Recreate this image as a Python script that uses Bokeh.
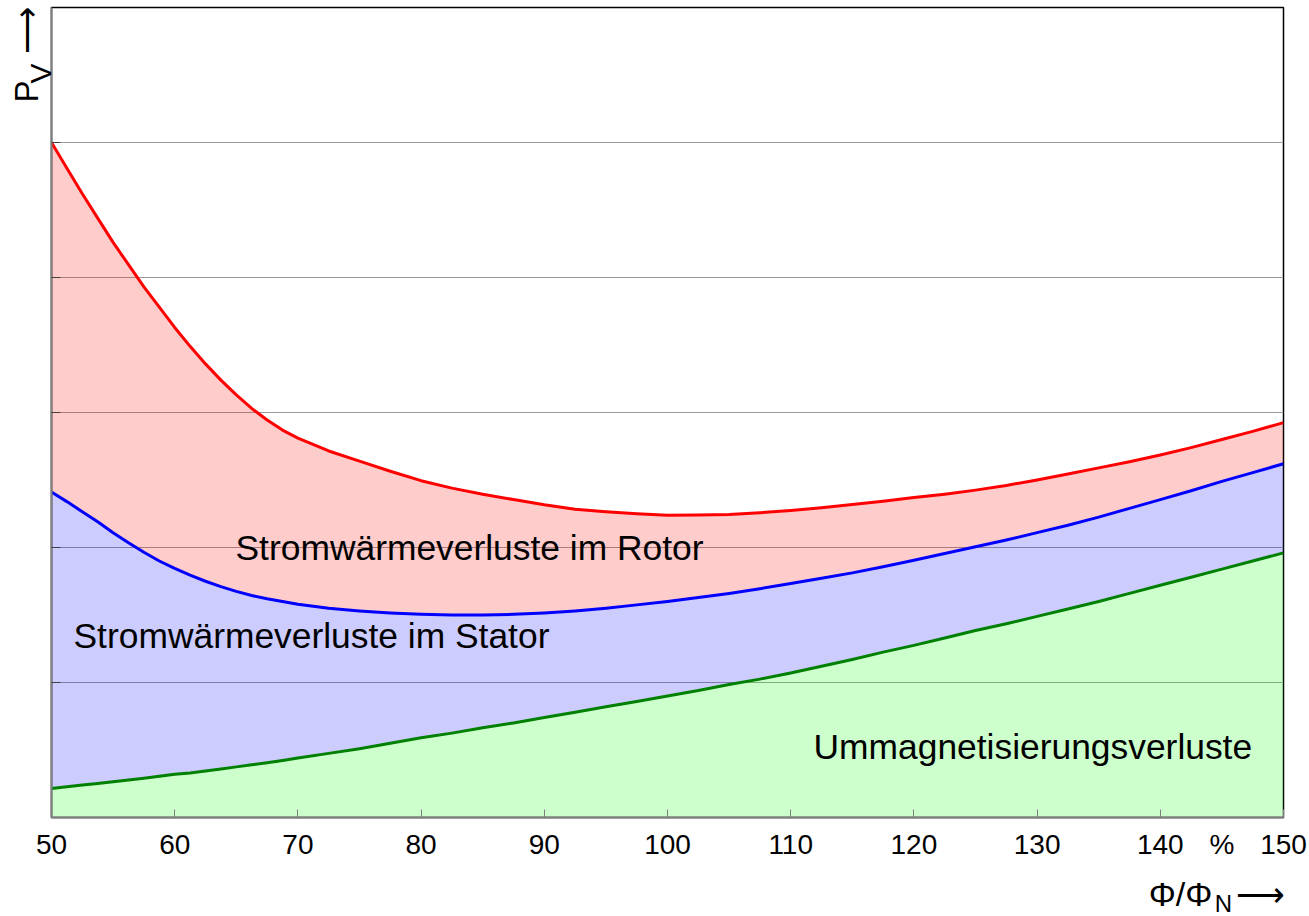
from bokeh.plotting import figure
from bokeh.models import Range1d, FixedTicker, Label, LinearAxis, Grid
from bokeh.embed import file_html
from bokeh.resources import INLINE

# ---- data ----
phi = [50, 51.25, 52.5, 53.75, 55, 56.25, 57.5, 58.75, 60, 61.25, 62.5, 63.75, 65, 66.25, 67.5, 68.75, 70,
       72.5, 75, 77.5, 80, 82.5, 85, 87.5, 90, 92.5, 95, 97.5,
       100, 102.5, 105, 107.5, 110, 112.5, 115, 117.5, 120, 122.5, 125, 127.5, 130, 132.5, 135, 137.5,
       140, 142.5, 145, 147.5, 150]
rotor = [5.00, 4.81, 4.62, 4.44, 4.26, 4.095, 3.93, 3.78, 3.63, 3.49, 3.36, 3.24, 3.13, 3.03, 2.945, 2.87, 2.81,
         2.715, 2.64, 2.565, 2.495, 2.44, 2.395, 2.355, 2.316, 2.283, 2.265, 2.25,
         2.238, 2.24, 2.244, 2.258, 2.274, 2.294, 2.318, 2.342, 2.37, 2.395, 2.425, 2.46, 2.50, 2.545, 2.59, 2.635,
         2.685, 2.74, 2.80, 2.86, 2.925]
stator = [2.41, 2.34, 2.265, 2.19, 2.11, 2.035, 1.965, 1.90, 1.845, 1.795, 1.75, 1.71, 1.675, 1.645, 1.62, 1.60, 1.58,
          1.55, 1.53, 1.515, 1.505, 1.50, 1.50, 1.505, 1.515, 1.53, 1.55, 1.575,
          1.60, 1.63, 1.66, 1.695, 1.733, 1.772, 1.812, 1.857, 1.905, 1.955, 2.005, 2.055, 2.11, 2.165, 2.225, 2.29,
          2.355, 2.42, 2.49, 2.555, 2.62]
ummag = [0.215, 0.227, 0.24, 0.252, 0.265, 0.277, 0.29, 0.305, 0.32, 0.33, 0.345, 0.36, 0.375, 0.39, 0.405, 0.422, 0.44,
         0.475, 0.51, 0.55, 0.59, 0.625, 0.665, 0.70, 0.74, 0.78, 0.82, 0.86,
         0.90, 0.94, 0.985, 1.025, 1.07, 1.12, 1.17, 1.225, 1.275, 1.33, 1.385, 1.435, 1.49, 1.545, 1.60, 1.66,
         1.72, 1.78, 1.84, 1.90, 1.96]

x_ticks = [50, 60, 70, 80, 90, 100, 110, 120, 130, 140, 150]
x_tick_labels = ["50", "60", "70", "80", "90", "100", "110", "120", "130", "140", "150"]
unit_pos, unit_label = 145, "%"
y_ticks = [1, 2, 3, 4, 5]
labels = ["Stromwärmeverluste im Rotor", "Stromwärmeverluste im Stator", "Ummagnetisierungsverluste"]

FONT = "Liberation Sans"

# frame in page pixels: x 51..1283, y 7..817
FL, FR, FT, FB = 51, 1283, 7, 817
def dx(px):
    return 50 + (px - FL) * 100.0 / (FR - FL)
def dy(py):
    return (FB - py) * 6.0 / (FB - FT)

p = figure(frame_width=FR - FL, frame_height=FB - FT,
           x_range=Range1d(50, 150), y_range=Range1d(0, 6),
           output_backend="svg", toolbar_location=None,
           x_axis_type=None, y_axis_type=None,
           min_border_left=FL, min_border_right=25, min_border_top=FT, min_border_bottom=916 - FB)
p.background_fill_color = "white"
p.border_fill_color = "white"
p.outline_line_color = "black"
p.outline_line_width = 1.5

# fills (semi-transparent so the grid shows through)
p.varea(x=phi, y1=[0] * len(phi), y2=ummag, fill_color="#00ff00", fill_alpha=0.2)
p.varea(x=phi, y1=ummag, y2=stator, fill_color="#0000ff", fill_alpha=0.2)
p.varea(x=phi, y1=stator, y2=rotor, fill_color="#ff0000", fill_alpha=0.2)

p.line(phi, ummag, line_color="#008000", line_width=3, line_join="round")
p.line(phi, stator, line_color="#0000ff", line_width=3, line_join="round")
p.line(phi, rotor, line_color="#ff0000", line_width=3, line_join="round")

# ---- main axes ----
xt = x_ticks[:-1] + [unit_pos, x_ticks[-1]]
xl = x_tick_labels[:-1] + [unit_label, x_tick_labels[-1]]
xaxis = LinearAxis(ticker=FixedTicker(ticks=xt, minor_ticks=x_ticks),
                   major_label_overrides=dict(zip(xt, xl)),
                   axis_line_color="#808080", axis_line_width=2,
                   major_tick_line_color=None, major_tick_in=0, major_tick_out=0,
                   minor_tick_line_color="#808080", minor_tick_line_width=1,
                   minor_tick_in=8, minor_tick_out=0,
                   major_label_text_font=FONT, major_label_text_font_size="28px",
                   major_label_text_color="black", major_label_standoff=11)
p.add_layout(xaxis, "below")

yaxis = LinearAxis(ticker=FixedTicker(ticks=[], minor_ticks=y_ticks),
                   axis_line_color="#808080", axis_line_width=2,
                   major_tick_line_color=None, major_tick_in=0, major_tick_out=0,
                   minor_tick_line_color="#404040", minor_tick_line_width=1,
                   minor_tick_in=9, minor_tick_out=0, major_label_standoff=0)
p.add_layout(yaxis, "left")

p.add_layout(Grid(dimension=1, ticker=FixedTicker(ticks=y_ticks), grid_line_color="#9a9a9a", grid_line_width=1))

# ---- axis titles as tick labels of extra (line-less) axes ----
def text_axis(ticks, texts, size, standoff, orientation="horizontal"):
    return LinearAxis(ticker=FixedTicker(ticks=ticks, minor_ticks=[]),
                      major_label_overrides=dict(zip(ticks, texts)),
                      axis_line_color=None, major_tick_line_color=None, minor_tick_line_color=None,
                      major_tick_in=0, major_tick_out=0, minor_tick_in=0, minor_tick_out=0,
                      major_label_text_font=FONT, major_label_text_font_size=size,
                      major_label_text_color="black", major_label_standoff=standoff,
                      major_label_orientation=orientation)

p.add_layout(text_axis([dx(1180), dx(1260)], ["Φ/Φ", "⟶"], "34px", 12), "below")
p.add_layout(text_axis([dx(1223)], ["N"], "24px", -26), "below")

p.add_layout(text_axis([dy(73)], ["V"], "30px", -5, "vertical"), "left")
p.add_layout(text_axis([dy(91), dy(30)], ["P", "⟶"], "33px", -24, "vertical"), "left")

# ---- in-chart labels ----
for txt, px, py in [(labels[0], 235, 547), (labels[1], 73, 635), (labels[2], 813, 746)]:
    p.add_layout(Label(x=dx(px), y=dy(py), text=txt, text_font=FONT, text_font_size="35.4px",
                       text_color="black", text_baseline="alphabetic", text_align="left"))

open("out.html", "w").write(file_html(p, INLINE))
